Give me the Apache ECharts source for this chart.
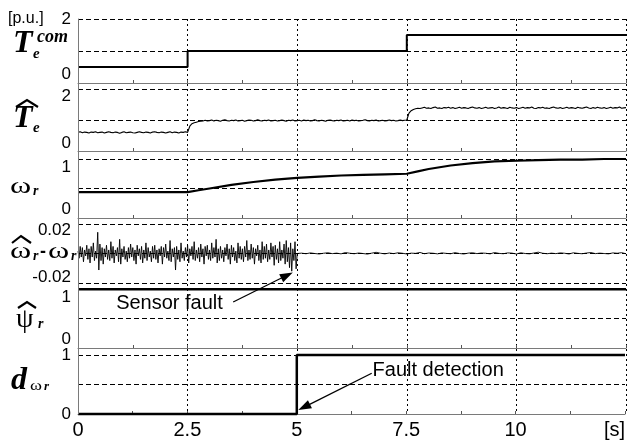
<!DOCTYPE html>
<html><head><meta charset="utf-8">
<script src="https://cdn.jsdelivr.net/npm/echarts@6/dist/echarts.min.js"></script>
<style>html,body{margin:0;padding:0;background:#fff}#c{width:628px;height:440px}</style>
</head><body><div id="c"></div>
<script>
// ---------------- data ----------------
const xTickLabels = ['0', '2.5', '5', '7.5', '10', '[s]'];
const yTickLabels = [['0', '2'], ['0', '2'], ['0', '1'], ['-0.02', '0.02'], ['0', '1'], ['0', '1']];

// commanded torque
const teComT = [0, 2.5, 2.5, 7.5, 7.5, 12.5];
const teComV = [0.5, 0.5, 1, 1, 1.5, 1.5];

// estimated torque, sampled every 0.05 s
const teHatStep = 0.05;
const teHatV = [
  0.60,0.62,0.59,0.61,0.60,0.58,0.61,0.60,0.62,0.59,
  0.60,0.61,0.58,0.60,0.62,0.60,0.59,0.61,0.60,0.57,
  0.60,0.62,0.59,0.60,0.61,0.59,0.58,0.60,0.62,0.60,
  0.59,0.61,0.60,0.58,0.61,0.62,0.60,0.59,0.61,0.60,
  0.58,0.60,0.62,0.59,0.61,0.60,0.58,0.61,0.60,0.62,
  0.60,0.80,0.88,0.91,0.93,0.95,0.96,0.97,0.99,0.97,
  0.98,1.00,0.97,0.99,0.98,0.96,0.99,1.01,0.98,0.97,
  0.99,0.98,1.00,0.97,0.98,0.99,0.96,0.98,1.00,0.99,
  0.97,0.98,1.01,0.98,0.97,0.99,0.98,1.00,0.97,0.98,
  0.99,0.97,0.98,1.00,0.98,0.96,0.99,0.98,1.00,0.97,
  0.98,0.99,0.97,1.00,0.98,0.99,0.97,0.98,1.01,0.98,
  0.97,0.99,0.98,0.96,0.99,1.00,0.98,0.97,0.99,0.98,
  1.00,0.97,0.98,0.99,0.97,1.00,0.98,0.99,0.97,0.98,
  0.99,1.01,0.98,0.97,0.99,0.98,1.00,0.97,0.98,0.99,
  0.97,0.98,1.00,0.98,0.99,0.97,0.98,1.00,0.98,0.99,
  1.00,1.22,1.30,1.34,1.36,1.38,1.37,1.39,1.41,1.38,
  1.39,1.37,1.40,1.42,1.38,1.39,1.37,1.40,1.39,1.41,
  1.38,1.40,1.37,1.39,1.41,1.38,1.40,1.39,1.37,1.40,
  1.42,1.39,1.38,1.40,1.37,1.39,1.41,1.38,1.39,1.40,
  1.37,1.39,1.42,1.38,1.40,1.39,1.37,1.41,1.39,1.38,
  1.40,1.37,1.39,1.41,1.38,1.40,1.39,1.42,1.38,1.37,
  1.40,1.39,1.41,1.38,1.39,1.37,1.40,1.42,1.39,1.38,
  1.40,1.37,1.39,1.41,1.38,1.40,1.39,1.37,1.41,1.39,
  1.38,1.40,1.42,1.39,1.37,1.40,1.38,1.41,1.39,1.38,
  1.40,1.37,1.39,1.41,1.38,1.40,1.39,1.42,1.38,1.39,
  1.40
];

// rotor speed
const wrT = [0, 2.5, 2.75, 3, 3.5, 4, 4.5, 5, 5.5, 6, 6.5, 7, 7.5, 7.75, 8, 8.5, 9, 9.5, 10, 10.5, 11, 11.5, 12, 12.5];
const wrV = [0.44, 0.44, 0.47, 0.50, 0.56, 0.61, 0.65, 0.68, 0.70, 0.72, 0.73, 0.74, 0.75, 0.79, 0.83, 0.89, 0.93, 0.96, 0.97, 0.98, 0.99, 0.99, 1.0, 1.0];

// speed estimation error (x 0.001): every 0.025 s up to 5 s, then every 0.1 s
const errPreStep = 0.025;
const errPreV = [
  2,-4,6,-3,5,-7,3,-2,7,-5,
  4,-8,6,-3,9,-6,2,-4,18,-14,
  8,-6,5,-9,4,-3,7,-5,3,-6,
  10,-4,6,-8,3,-2,5,-7,12,-9,
  4,-3,6,-5,2,-7,5,-4,8,-3,
  5,-6,3,-9,7,-2,4,-5,6,-8,
  3,-4,9,-6,5,-3,2,-7,6,-4,
  7,-5,3,-8,4,-2,6,-9,5,-3,
  8,-4,2,-6,11,-7,4,-3,5,-14,
  6,-5,3,-7,9,-4,2,-6,5,-3,
  7,-8,4,-2,6,-5,10,-6,3,-4,
  5,-7,8,-3,4,-9,6,-2,7,-5,
  3,-6,9,-4,5,-3,12,-8,4,-6,
  6,-4,3,-7,5,-2,8,-5,4,-9,
  7,-3,5,-6,2,-8,9,-4,6,-5,
  4,-7,6,-3,11,-6,3,-5,8,-4,
  5,-9,4,-2,7,-6,3,-8,10,-5,
  6,-4,8,-7,3,-5,9,-3,6,-10,
  7,-5,4,-8,10,-6,3,-4,8,-9,
  11,-7,5,-12,9,-15,4,-6,10,-13,
  0
];
const errPostStep = 0.1;
const errPostV = [
  0.3,-0.2,0.5,0,-0.4,0.2,0.6,-0.1,0.3,-0.3,
  0.8,0.2,-0.2,0.4,0,-0.5,0.3,1.0,0.2,-0.3,
  0.4,-0.1,0.6,0.2,-0.4,0.3,0.1,0.9,-0.2,0.4,
  0.2,-0.3,0.5,0.1,-0.2,0.7,0,-0.4,0.3,0.6,
  -0.1,0.4,0.2,-0.3,0.8,0.1,-0.2,0.5,0.3,-0.4,
  0.6,0,-0.3,0.4,1.1,0.2,-0.2,0.3,-0.1,0.5,
  0.2,-0.4,0.6,0.1,-0.2,0.4,0.8,-0.1,0.3,0,
  -0.3,0.5,0.2,0.7,-0.2
];

// estimated flux
const psiT = [0, 12.5];
const psiV = [0.995, 0.995];

// fault detection flag
const dT = [0, 5, 5, 12.5];
const dV = [0, 0, 1, 1];

// ---------------- chart ----------------
const W = 628;
const chart = echarts.init(document.getElementById('c'), null, {renderer: 'canvas'});
const LEFT = 78, RIGHT = 2, XMAX = 12.5;
const panels = [
  {top: 19, height: 64, min: 0, max: 2, split: 1, lblInt: 2, vmin: 'bottom', vmax: 'middle', axisLabels: true},
  {top: 89, height: 62, min: 0, max: 2, split: 1, lblInt: 2, vmin: 'bottom', vmax: 'top', axisLabels: false},
  {top: 159, height: 59, min: 0, max: 1, split: 0.5, lblInt: 1, vmin: 'bottom', vmax: 'top', axisLabels: true},
  {top: 224, height: 59, min: -0.025, max: 0.025, split: 0.025, lblInt: 0.005, vmin: 'middle', vmax: 'middle', axisLabels: true},
  {top: 289, height: 59, min: 0, max: 1, split: 0.5, lblInt: 1, vmin: 'bottom', vmax: 'top', axisLabels: true},
  {top: 355, height: 59, min: 0, max: 1, split: 0.5, lblInt: 1, vmin: 'middle', vmax: 'middle', axisLabels: true}
];
const grids = panels.map(p => ({left: LEFT, right: RIGHT, top: p.top, height: p.height}));
grids.push({left: LEFT, right: RIGHT, top: 19, height: 395});

// same linear mapping as the grids/axes above (used only for annotations)
const toPx = (panel, t, v) => {
  const p = panels[panel];
  return [LEFT + t / XMAX * (W - LEFT - RIGHT), p.top + p.height * (p.max - v) / (p.max - p.min)];
};

const SANS = 'Liberation Sans';
const dash = {color: '#000', width: 1, type: [5, 3]};

function xAx(i) {
  const solid = i !== 3;
  return {
    gridIndex: i, type: 'value', min: 0, max: XMAX, interval: 2.5, z: 3,
    axisLine: {show: solid, onZero: false, lineStyle: {color: '#7a7a7a', width: 1}},
    axisTick: {show: solid, inside: true, length: 3, lineStyle: {color: '#555'}},
    minorTick: {show: solid, splitNumber: 2, length: 3, lineStyle: {color: '#555'}},
    splitLine: {show: false},
    axisLabel: {
      show: i === 5, fontSize: 20, fontFamily: SANS, color: '#000', margin: 6,
      showMinLabel: true, showMaxLabel: true, alignMaxLabel: 'right',
      formatter: v => xTickLabels[Math.round(v / 2.5)]
    }
  };
}
function lab(i) {
  return v => {
    const [lo, hi] = yTickLabels[i];
    if (Math.abs(v - parseFloat(lo)) < 1e-9) return lo;
    if (Math.abs(v - parseFloat(hi)) < 1e-9) return hi;
    return '';
  };
}

const xAxes = [0, 1, 2, 3, 4, 5].map(xAx);
xAxes.push({
  gridIndex: 6, type: 'value', min: 0, max: XMAX, interval: 2.5,
  axisLine: {show: false}, axisTick: {show: false}, axisLabel: {show: false},
  splitLine: {show: true, lineStyle: {color: '#000', width: 1, type: [2, 3]}}
});

// per panel: axis 2i carries data + dashed split lines, axis 2i+1 carries the tick labels
const yAxes = [];
panels.forEach((p, i) => {
  yAxes.push({gridIndex: i, type: 'value', min: p.min, max: p.max, interval: p.split, position: 'left',
    axisLine: {show: false}, axisTick: {show: false}, axisLabel: {show: false},
    splitLine: {show: true, lineStyle: dash}});
  yAxes.push({gridIndex: i, type: 'value', min: p.min, max: p.max, interval: p.lblInt, position: 'left',
    axisLine: {show: false}, axisTick: {show: false}, splitLine: {show: false},
    axisLabel: {show: p.axisLabels, formatter: lab(i), fontSize: 17, fontFamily: SANS, color: '#000', margin: 7,
      showMinLabel: true, showMaxLabel: true,
      verticalAlignMinLabel: p.vmin, verticalAlignMaxLabel: p.vmax}});
});
yAxes.push({gridIndex: 6, type: 'value', min: 0, max: 1, position: 'left', z: 5,
  axisLine: {show: true, onZero: false, lineStyle: {color: '#7a7a7a', width: 1}},
  axisTick: {show: false}, axisLabel: {show: false}, splitLine: {show: false}});

const pair = (ts, vs) => ts.map((t, i) => [t, vs[i]]);
const teHatData = teHatV.map((v, i) => [i * teHatStep, v]);
const errData = errPreV.map((v, i) => [i * errPreStep, v * 0.001])
  .concat(errPostV.map((v, i) => [5 + (i + 1) * errPostStep, v * 0.001]));

function line(panel, data, w) {
  return {type: 'line', xAxisIndex: panel, yAxisIndex: 2 * panel, data, symbol: 'none', clip: false,
    lineStyle: {color: '#000', width: w}, z: 4, animation: false};
}

// panel titles (static text)
const SER = '"Liberation Serif"';
const titleParts = [
  {t: 'T', x: 13, y: 44, f: 'italic bold 32px ' + SER},
  {t: 'e', x: 33, y: 54, f: 'italic bold 15px ' + SER},
  {t: 'com', x: 37, y: 37, f: 'italic bold 18px ' + SER},
  {t: 'T', x: 13, y: 119, f: 'italic bold 32px ' + SER},
  {t: 'e', x: 33, y: 128, f: 'italic bold 15px ' + SER},
  {t: 'ω', x: 10, y: 187, f: '23px ' + SER, sx: 1.4},
  {t: 'r', x: 33, y: 191, f: 'italic bold 14px ' + SER},
  {t: 'ω', x: 10, y: 252, f: '23px ' + SER, sx: 1.4},
  {t: 'r', x: 33, y: 256, f: 'italic bold 14px ' + SER},
  {t: '-', x: 40, y: 252, f: 'bold 18px "Liberation Sans"'},
  {t: 'ω', x: 48, y: 252, f: '23px ' + SER, sx: 1.4},
  {t: 'r', x: 71, y: 256, f: 'italic bold 14px ' + SER},
  {t: 'ψ', x: 16, y: 320, f: '28px ' + SER},
  {t: 'r', x: 38, y: 324, f: 'italic bold 14px ' + SER},
  {t: 'd', x: 11, y: 381, f: 'italic bold 32px ' + SER},
  {t: 'ω', x: 30, y: 386, f: '14px ' + SER, sx: 1.3},
  {t: 'r', x: 44, y: 387, f: 'italic bold 13px ' + SER},
  {t: '[p.u.]', x: 8, y: 19, f: '16px "Liberation Sans"'}
];
const hats = [
  [[16, 107], [27, 100], [38, 107]],
  [[12, 243], [21, 236], [31, 243]],
  [[18, 308], [27, 302], [36, 308]]
];
const graphics = titleParts.map(p => ({
  type: 'text', x: p.x, y: p.y, scaleX: p.sx || 1, z: 10,
  style: {text: p.t, font: p.f, fill: '#000', align: 'left', verticalAlign: 'middle'}
})).concat(hats.map(pts => ({
  type: 'polyline', z: 10, shape: {points: pts}, style: {stroke: '#000', lineWidth: 2.2, fill: null}
})));

// tick labels of panel 2, placed from its value range (0 at bottom edge, 2 at top edge)
(() => {
  const p = panels[1];
  const lo = toPx(1, 0, p.min), hi = toPx(1, 0, p.max);
  const labW = 9.5; // one digit at 17px
  graphics.push({type: 'text', z: 10, x: LEFT - 7 - labW, y: lo[1] - 8,
    style: {text: yTickLabels[1][0], font: '17px "Liberation Sans"', fill: '#000', align: 'left', verticalAlign: 'middle'}});
  graphics.push({type: 'text', z: 10, x: LEFT - 7 - labW, y: hi[1] + 7,
    style: {text: yTickLabels[1][1], font: '17px "Liberation Sans"', fill: '#000', align: 'left', verticalAlign: 'middle'}});
})();

// annotations anchored in data coordinates
const annotations = [
  {text: 'Sensor fault', textAt: [4, 0.87, 0.76], from: [4, 3.54, 0.78], to: [3, 4.9, -0.016]},
  {text: 'Fault detection', textAt: [5, 6.72, 0.73], from: [5, 6.70, 0.69], to: [5, 5.025, 0.068]}
];
annotations.forEach(a => {
  const tp = toPx(...a.textAt), s = toPx(...a.from), e = toPx(...a.to);
  graphics.push({type: 'text', x: tp[0], y: tp[1], z: 10,
    style: {text: a.text, font: '20px "Liberation Sans"', fill: '#000', align: 'left', verticalAlign: 'middle'}});
  const dx = e[0] - s[0], dy = e[1] - s[1], len = Math.hypot(dx, dy);
  const ux = dx / len, uy = dy / len, nx = -uy, ny = ux, L = 13, HW = 4.5;
  const bx = e[0] - L * ux, by = e[1] - L * uy;
  graphics.push({type: 'line', z: 10, shape: {x1: s[0], y1: s[1], x2: bx + 2 * ux, y2: by + 2 * uy},
    style: {stroke: '#000', lineWidth: 1.3}});
  graphics.push({type: 'polygon', z: 10,
    shape: {points: [[e[0], e[1]], [bx + HW * nx, by + HW * ny], [bx - HW * nx, by - HW * ny]]},
    style: {fill: '#000'}});
});

chart.setOption({
  animation: false,
  backgroundColor: '#fff',
  grid: grids,
  xAxis: xAxes,
  yAxis: yAxes,
  series: [
    line(0, pair(teComT, teComV), 2),
    line(1, teHatData, 1.1),
    line(2, pair(wrT, wrV), 2.2),
    line(3, errData, 0.9),
    line(4, pair(psiT, psiV), 2.5),
    line(5, pair(dT, dV), 2.5)
  ],
  graphic: graphics
});
</script></body></html>
